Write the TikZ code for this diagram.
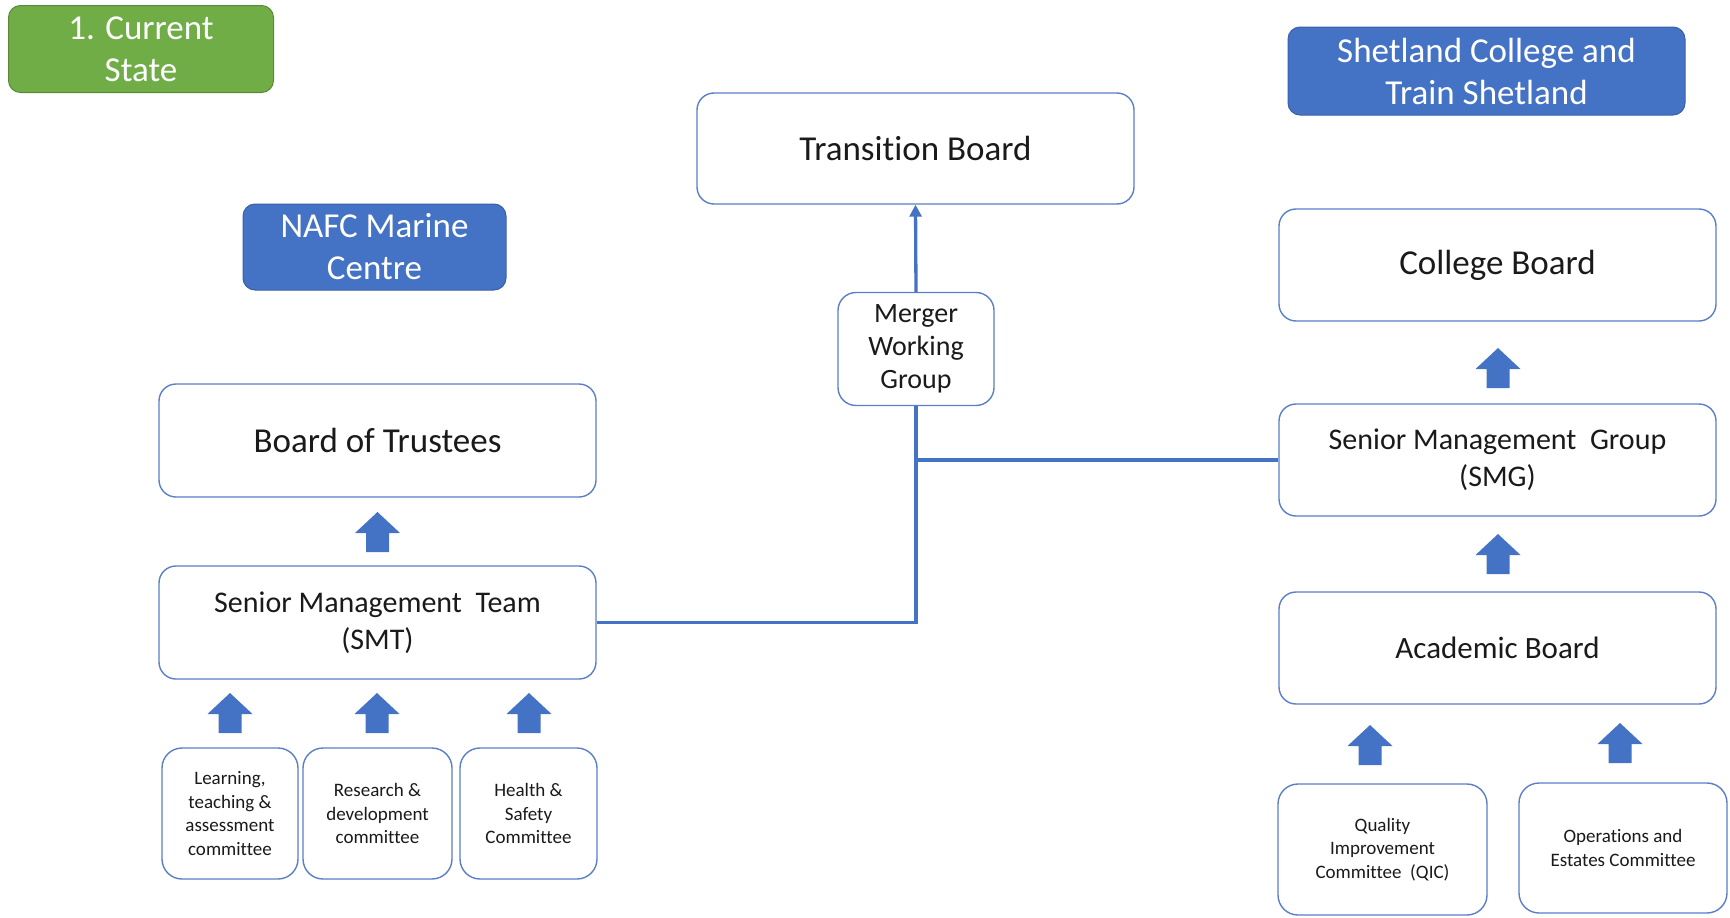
\documentclass[tikz,border=0pt]{standalone}
\usepackage{fontspec}
\setmainfont[Ligatures=NoCommon]{Carlito}
\usetikzlibrary{arrows.meta}
\definecolor{offblue}{HTML}{4472C4}
\definecolor{offgreen}{HTML}{70AD47}
\definecolor{edgeblue}{HTML}{5B7FC7}
\definecolor{inktext}{HTML}{1A1A1A}
\begin{document}
\begin{tikzpicture}[x=1pt,y=-1pt,
  header/.style={rectangle, rounded corners=12pt, fill=offblue, draw=offblue!85!black, line width=1pt,
    text=white, align=center, inner sep=0pt, font=\fontsize{35}{42}\selectfont},
  bigbox/.style={rectangle, rounded corners=17pt, draw=edgeblue, line width=1.4pt, fill=white,
    text=inktext, align=center, inner sep=0pt, minimum width=437pt, minimum height=112pt,
    font=\fontsize{35}{40}\selectfont},
  midbox/.style={bigbox, font=\fontsize{30}{37}\selectfont},
  smallbox/.style={rectangle, rounded corners=20pt, draw=edgeblue, line width=1.4pt, fill=white,
    text=inktext, align=center, inner sep=0pt, minimum height=131pt,
    font=\fontsize{19}{23.5}\selectfont},
  link/.style={draw=offblue, line width=3.3pt},
  uparr/.pic={\fill[offblue] (0,-20) -- (22.5,1) -- (11.5,1) -- (11.5,20) -- (-11.5,20) -- (-11.5,1) -- (-22.5,1) -- cycle;}
]
\useasboundingbox (0,0) rectangle (1730,918);

% headers
\node[header, fill=offgreen, draw=offgreen!80!black, minimum width=265pt, minimum height=87pt] (cs) at (141,49) {1. Current\\State};
\node[header, minimum width=397pt, minimum height=88pt] (shet) at (1486.5,71) {Shetland College and\\Train Shetland};
\node[header, minimum width=263pt, minimum height=86pt] (nafc) at (374.5,247) {NAFC Marine\\Centre};

% main boards
\node[bigbox, minimum height=111pt] (tb) at (915.5,148.5) {Transition Board};
\node[bigbox] (cb) at (1497.5,265) {College Board};
\node[bigbox, minimum height=113pt] (bot) at (377.5,440.5) {Board of Trustees};
\node[midbox] (smg) at (1497.5,460) {Senior Management\ \ Group\\(SMG)};
\node[midbox, minimum height=113pt] (smt) at (377.5,622.5) {Senior Management\ \ Team\\(SMT)};
\node[midbox, font=\fontsize{31}{37}\selectfont] (acb) at (1497.5,648) {Academic Board};

% merger working group
\node[bigbox, rounded corners=18pt, minimum width=156pt, minimum height=113pt,
  font=\fontsize{28}{33}\selectfont] (mwg) at (916,349) {Merger\\Working\\Group};

% committees
\node[smallbox, minimum width=136pt] (l1) at (230,813.5) {Learning,\\teaching \&\\assessment\\committee};
\node[smallbox, minimum width=149pt] (l2) at (377.5,813.5) {Research \&\\development\\committee};
\node[smallbox, minimum width=137pt] (l3) at (528.5,813.5) {Health \&\\Safety\\Committee};
\node[smallbox, minimum width=209pt] (qic) at (1382.5,849.5) {Quality\\Improvement\\Committee\ \ (QIC)};
\node[smallbox, minimum width=208pt, minimum height=130pt] (ops) at (1623,848) {Operations and\\Estates Committee};

% block arrows
\pic at (377.5,532) {uparr};
\pic at (230,713) {uparr};
\pic at (377,713) {uparr};
\pic at (529,713) {uparr};
\pic at (1498,368) {uparr};
\pic at (1498,554) {uparr};
\pic at (1370,745) {uparr};
\pic at (1620,743) {uparr};

% connectors
\coordinate (join) at (mwg.south |- smg.west);
\draw[link] (smt.east) -| (mwg.south);
\draw[link] (smg.west) -- (join);
\draw[link, -{Triangle[length=12pt,width=12pt]}] (mwg.north) -- (tb.south);
\end{tikzpicture}
\end{document}
